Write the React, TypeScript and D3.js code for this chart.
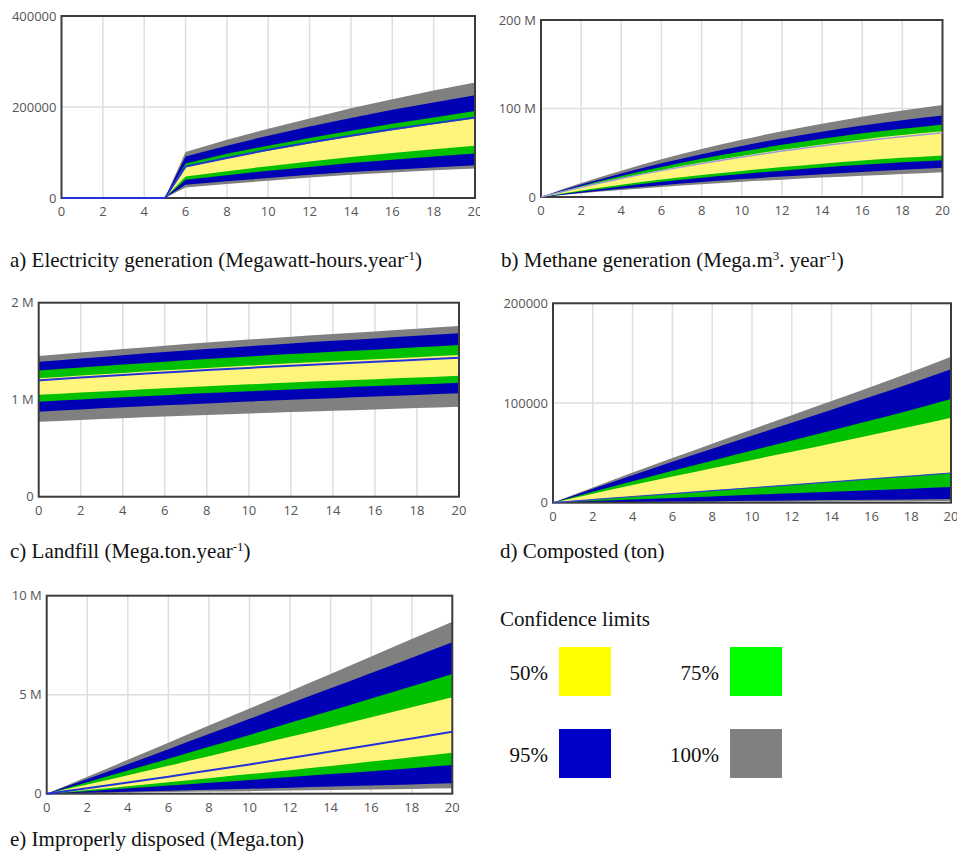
import React from 'react';
import * as d3 from 'd3';

// ---------- a) Electricity generation ----------
const elecYears = [0, 5, 6, 8, 10, 12, 14, 16, 18, 20];
const elecGrayLo = [0, 0, 23000, 31000, 38000, 45000, 51000, 56000, 61000, 65000];
const elecBlueLo = [0, 0, 29000, 37000, 44000, 51000, 57000, 62000, 67000, 72000];
const elecGreenLo = [0, 0, 40000, 50000, 60000, 68000, 77000, 84000, 91000, 98000];
const elecYellowLo = [0, 0, 47000, 59000, 70000, 80000, 90000, 99000, 107000, 115000];
const elecMedian = [0, 0, 69000, 88000, 106000, 122000, 137000, 151000, 164000, 177000];
const elecYellowHi = [0, 0, 68000, 87000, 104000, 120000, 135000, 149000, 162000, 175000];
const elecGreenHi = [0, 0, 76000, 97000, 115000, 132000, 148000, 163000, 177000, 191000];
const elecBlueHi = [0, 0, 91000, 115000, 137000, 157000, 176000, 194000, 210000, 226000];
const elecGrayHi = [0, 0, 101000, 128000, 152000, 175000, 197000, 217000, 236000, 254000];
const elecTicks = [0, 200000, 400000];
const elecTickLabels = ['0', '200000', '400000'];

// ---------- b) Methane generation (millions) ----------
const methYears = [0, 2, 4, 6, 8, 10, 12, 14, 16, 18, 20];
const methGrayLo = [0, 4.2, 7.9, 11.3, 14.4, 17.1, 19.6, 21.9, 24.0, 26.0, 28.0];
const methBlueLo = [0, 4.9, 9.3, 13.3, 16.9, 20.2, 23.1, 25.8, 28.3, 30.8, 33.0];
const methGreenLo = [0, 6.3, 12.0, 17.1, 21.8, 26.0, 29.8, 33.3, 36.5, 39.2, 41.5];
const methYellowLo = [0, 7.3, 13.9, 19.9, 25.0, 29.5, 33.8, 37.7, 41.2, 44.3, 47.0];
const methMedian = [0, 11.0, 20.9, 29.8, 37.9, 45.2, 51.9, 57.9, 63.4, 68.2, 72.7];
const methYellowHi = [0, 11.3, 21.4, 30.6, 38.9, 46.4, 53.3, 59.4, 65.1, 70.0, 74.2];
const methGreenHi = [0, 12.5, 23.7, 33.8, 43.1, 51.3, 58.9, 65.7, 71.9, 77.0, 82.0];
const methBlueHi = [0, 14.0, 26.6, 38.0, 48.4, 57.7, 66.2, 73.8, 80.8, 86.6, 92.0];
const methGrayHi = [0, 15.7, 29.8, 42.6, 54.3, 64.7, 74.3, 82.8, 90.7, 97.6, 104];
const methTicks = [0, 100, 200];
const methTickLabels = ['0', '100 M', '200 M'];

// ---------- c) Landfill (millions) ----------
const landYears = [0, 2, 4, 6, 8, 10, 12, 14, 16, 18, 20];
const landGrayLo = [0.773, 0.792, 0.809, 0.826, 0.843, 0.858, 0.873, 0.887, 0.9, 0.914, 0.928];
const landBlueLo = [0.876, 0.899, 0.921, 0.942, 0.962, 0.981, 0.999, 1.016, 1.032, 1.049, 1.066];
const landGreenLo = [0.98, 1.003, 1.026, 1.047, 1.068, 1.087, 1.106, 1.123, 1.14, 1.157, 1.175];
const landYellowLo = [1.05, 1.074, 1.096, 1.118, 1.139, 1.158, 1.177, 1.195, 1.212, 1.229, 1.247];
const landMedian = [1.2, 1.228, 1.255, 1.28, 1.305, 1.328, 1.35, 1.371, 1.391, 1.412, 1.433];
const landYellowHi = [1.22, 1.249, 1.276, 1.303, 1.328, 1.352, 1.375, 1.396, 1.417, 1.438, 1.46];
const landGreenHi = [1.3, 1.332, 1.362, 1.391, 1.419, 1.445, 1.47, 1.494, 1.516, 1.54, 1.564];
const landBlueHi = [1.39, 1.425, 1.459, 1.492, 1.523, 1.552, 1.58, 1.607, 1.632, 1.658, 1.685];
const landGrayHi = [1.45, 1.487, 1.523, 1.557, 1.59, 1.62, 1.65, 1.678, 1.704, 1.732, 1.76];
const landTicks = [0, 1, 2];
const landTickLabels = ['0', '1 M', '2 M'];

// ---------- d) Composted (thousands of ton) ----------
const compYears = [0, 2, 4, 6, 8, 10, 12, 14, 16, 18, 20];
const compGrayLo = [0, 0.17, 0.34, 0.5, 0.68, 0.85, 1.0, 1.2, 1.36, 1.5, 1.7];
const compBlueLo = [0, 0.37, 0.74, 1.1, 1.5, 1.85, 2.2, 2.6, 3.0, 3.3, 3.7];
const compGreenLo = [0, 1.6, 3.2, 4.8, 6.3, 7.9, 9.5, 11.0, 12.6, 14.1, 15.7];
const compYellowLo = [0, 3.2, 6.3, 9.3, 12.3, 15.2, 18.1, 21.1, 24.1, 27.1, 30.1];
const compMedian = [0, 3.1, 6.2, 9.2, 12.1, 15.0, 17.9, 20.9, 23.8, 26.8, 29.8];
const compYellowHi = [0, 8.9, 17.7, 26.2, 34.6, 42.9, 51.1, 59.4, 67.8, 76.4, 85.3];
const compGreenHi = [0, 10.9, 21.6, 32.0, 42.2, 52.3, 62.3, 72.5, 82.6, 93.0, 104];
const compBlueHi = [0, 13.9, 27.6, 41.0, 54.2, 67.2, 80.2, 93.3, 106.4, 119.8, 133.8];
const compGrayHi = [0, 15.3, 30.2, 44.8, 59.2, 73.5, 87.8, 102, 116.3, 131, 146.4];
const compTicks = [0, 100, 200];
const compTickLabels = ['0', '100000', '200000'];

// ---------- e) Improperly disposed (millions) ----------
const impYears = [0, 2, 4, 6, 8, 10, 12, 14, 16, 18, 20];
const impGrayLo = [0, 0.025, 0.05, 0.08, 0.105, 0.13, 0.16, 0.185, 0.21, 0.24, 0.27];
const impBlueLo = [0, 0.05, 0.1, 0.15, 0.2, 0.25, 0.3, 0.36, 0.41, 0.47, 0.525];
const impGreenLo = [0, 0.13, 0.27, 0.41, 0.55, 0.69, 0.84, 0.99, 1.14, 1.29, 1.45];
const impYellowLo = [0, 0.19, 0.38, 0.58, 0.78, 0.99, 1.19, 1.4, 1.62, 1.84, 2.07];
const impMedian = [0, 0.27, 0.56, 0.86, 1.17, 1.48, 1.8, 2.13, 2.46, 2.79, 3.13];
const impYellowHi = [0, 0.46, 0.93, 1.41, 1.89, 2.38, 2.87, 3.36, 3.86, 4.36, 4.87];
const impGreenHi = [0, 0.58, 1.17, 1.77, 2.37, 2.97, 3.58, 4.19, 4.81, 5.43, 6.05];
const impBlueHi = [0, 0.74, 1.49, 2.25, 3.01, 3.78, 4.55, 5.32, 6.09, 6.87, 7.65];
const impGrayHi = [0, 0.85, 1.71, 2.57, 3.44, 4.3, 5.18, 6.05, 6.93, 7.81, 8.69];
const impTicks = [0, 5, 10];
const impTickLabels = ['0', '5 M', '10 M'];

const xTicks = [0, 2, 4, 6, 8, 10, 12, 14, 16, 18, 20];

// legend
const legendLabels = ['50%', '75%', '95%', '100%'];
const legendColors = ['#ffff00', '#00ff00', '#0000c8', '#808080'];

const BAND_GRAY = '#808080';
const BAND_BLUE = '#0000b4';
const BAND_GREEN = '#00c000';
const BAND_YELLOW = '#fff57c';

type PanelDef = {
  id: string;
  years: number[];
  grayLo: number[]; blueLo: number[]; greenLo: number[]; yellowLo: number[];
  median: number[];
  yellowHi: number[]; greenHi: number[]; blueHi: number[]; grayHi: number[];
  ticks: number[]; tickLabels: string[];
  x0: number; x1: number; y0: number; y1: number;
  lineColor: string; lineWidth: number;
  curve: any;
  clipRight: number;
};

const panels: PanelDef[] = [
  {
    id: 'a', years: elecYears,
    grayLo: elecGrayLo, blueLo: elecBlueLo, greenLo: elecGreenLo, yellowLo: elecYellowLo,
    median: elecMedian,
    yellowHi: elecYellowHi, greenHi: elecGreenHi, blueHi: elecBlueHi, grayHi: elecGrayHi,
    ticks: elecTicks, tickLabels: elecTickLabels,
    x0: 61.5, x1: 475, y0: 16, y1: 198,
    lineColor: '#2233d8', lineWidth: 2, curve: d3.curveLinear, clipRight: 480,
  },
  {
    id: 'b', years: methYears,
    grayLo: methGrayLo, blueLo: methBlueLo, greenLo: methGreenLo, yellowLo: methYellowLo,
    median: methMedian,
    yellowHi: methYellowHi, greenHi: methGreenHi, blueHi: methBlueHi, grayHi: methGrayHi,
    ticks: methTicks, tickLabels: methTickLabels,
    x0: 541, x1: 942.5, y0: 20, y1: 197,
    lineColor: '#9a9ad6', lineWidth: 1.5, curve: d3.curveMonotoneX, clipRight: 957,
  },
  {
    id: 'c', years: landYears,
    grayLo: landGrayLo, blueLo: landBlueLo, greenLo: landGreenLo, yellowLo: landYellowLo,
    median: landMedian,
    yellowHi: landYellowHi, greenHi: landGreenHi, blueHi: landBlueHi, grayHi: landGrayHi,
    ticks: landTicks, tickLabels: landTickLabels,
    x0: 38.7, x1: 459, y0: 302.7, y1: 496.7,
    lineColor: '#2233d8', lineWidth: 2, curve: d3.curveMonotoneX, clipRight: 480,
  },
  {
    id: 'd', years: compYears,
    grayLo: compGrayLo, blueLo: compBlueLo, greenLo: compGreenLo, yellowLo: compYellowLo,
    median: compMedian,
    yellowHi: compYellowHi, greenHi: compGreenHi, blueHi: compBlueHi, grayHi: compGrayHi,
    ticks: compTicks, tickLabels: compTickLabels,
    x0: 553, x1: 951, y0: 303.3, y1: 502.7,
    lineColor: '#3344c8', lineWidth: 1.2, curve: d3.curveMonotoneX, clipRight: 957,
  },
  {
    id: 'e', years: impYears,
    grayLo: impGrayLo, blueLo: impBlueLo, greenLo: impGreenLo, yellowLo: impYellowLo,
    median: impMedian,
    yellowHi: impYellowHi, greenHi: impGreenHi, blueHi: impBlueHi, grayHi: impGrayHi,
    ticks: impTicks, tickLabels: impTickLabels,
    x0: 46.7, x1: 452.3, y0: 595.7, y1: 793.7,
    lineColor: '#2233d8', lineWidth: 2, curve: d3.curveMonotoneX, clipRight: 480,
  },
];

const TICK_FONT = "'Open Sans', 'DejaVu Sans', sans-serif";
const SERIF = "'Liberation Serif', 'Times New Roman', serif";

function Panel({ p }: { p: PanelDef }) {
  const x = d3.scaleLinear().domain([0, 20]).range([p.x0, p.x1]);
  const y = d3.scaleLinear().domain([0, p.ticks[2]]).range([p.y1, p.y0]);
  const idx = p.years.map((_, i) => i);
  const band = (lo: number[], hi: number[]) =>
    d3.area<number>()
      .x((i) => x(p.years[i]))
      .y0((i) => y(lo[i]))
      .y1((i) => y(hi[i]))
      .curve(p.curve)(idx) || '';
  const line = d3.line<number>()
    .x((i) => x(p.years[i]))
    .y((i) => y(p.median[i]))
    .curve(p.curve)(idx) || '';
  const clipId = `clip-${p.id}`;
  return (
    <g clipPath={`url(#${clipId})`}>
      <defs>
        <clipPath id={clipId}>
          <rect x={p.x0 - 70} y={p.y0 - 20} width={p.clipRight - (p.x0 - 70)} height={p.y1 - p.y0 + 60} />
        </clipPath>
      </defs>
      <rect x={p.x0} y={p.y0} width={p.x1 - p.x0} height={p.y1 - p.y0} fill="#ffffff" />
      {xTicks.slice(1, -1).map((t) => (
        <line key={`gx${t}`} x1={x(t)} x2={x(t)} y1={p.y0} y2={p.y1} stroke="#dedede" strokeWidth={1.5} />
      ))}
      <line x1={p.x0} x2={p.x1} y1={y(p.ticks[1])} y2={y(p.ticks[1])} stroke="#dedede" strokeWidth={1.5} />
      <path d={band(p.grayLo, p.grayHi)} fill={BAND_GRAY} />
      <path d={band(p.blueLo, p.blueHi)} fill={BAND_BLUE} />
      <path d={band(p.greenLo, p.greenHi)} fill={BAND_GREEN} />
      <path d={band(p.yellowLo, p.yellowHi)} fill={BAND_YELLOW} />
      <rect x={p.x0} y={p.y0} width={p.x1 - p.x0} height={p.y1 - p.y0} fill="none" stroke="#3c3c3c" strokeWidth={2} />
      <path d={line} fill="none" stroke={p.lineColor} strokeWidth={p.lineWidth} />
      {p.ticks.map((t, i) => (
        <text key={`yt${t}`} x={p.x0 - 5} y={y(t) + 4.5} textAnchor="end" fontFamily={TICK_FONT} fontSize={13} fill="#555">
          {p.tickLabels[i]}
        </text>
      ))}
      {xTicks.map((t) => (
        <text key={`xt${t}`} x={x(t)} y={p.y1 + 18} textAnchor="middle" fontFamily={TICK_FONT} fontSize={13} fill="#555">
          {t}
        </text>
      ))}
    </g>
  );
}

function Caption({ x, y, children }: { x: number; y: number; children: any }) {
  return (
    <text x={x} y={y} fontFamily={SERIF} fontSize={21} fill="#111">
      {children}
    </text>
  );
}

const Sup = ({ t }: { t: string }) => (
  <tspan baselineShift="super" fontSize={13}>{t}</tspan>
);

export default function App() {
  return (
    <svg width={957} height={853} style={{ position: 'absolute', left: 0, top: 0, background: '#fff' }}>
      <rect width={957} height={853} fill="#fff" />
      {panels.map((p) => (
        <Panel key={p.id} p={p} />
      ))}
      <Caption x={10} y={267}>
        a) Electricity generation (Megawatt-hours.year<Sup t="-1" />)
      </Caption>
      <Caption x={501} y={267}>
        b) Methane generation (Mega.m<Sup t="3" />. year<Sup t="-1" />)
      </Caption>
      <Caption x={10} y={558}>
        c) Landfill (Mega.ton.year<Sup t="-1" />)
      </Caption>
      <Caption x={500} y={558}>
        d) Composted (ton)
      </Caption>
      <Caption x={10} y={846}>
        e) Improperly disposed (Mega.ton)
      </Caption>

      <text x={500} y={626} fontFamily={SERIF} fontSize={21} fill="#111">Confidence limits</text>
      {legendLabels.map((lab, i) => {
        const col = i % 2;
        const row = Math.floor(i / 2);
        const sx = col === 0 ? 559 : 730;
        const sy = row === 0 ? 647 : 729;
        return (
          <g key={lab}>
            <text x={sx - 11} y={sy + 33} textAnchor="end" fontFamily={SERIF} fontSize={21} fill="#111">{lab}</text>
            <rect x={sx} y={sy} width={52} height={49} fill={legendColors[i]} />
          </g>
        );
      })}
    </svg>
  );
}
